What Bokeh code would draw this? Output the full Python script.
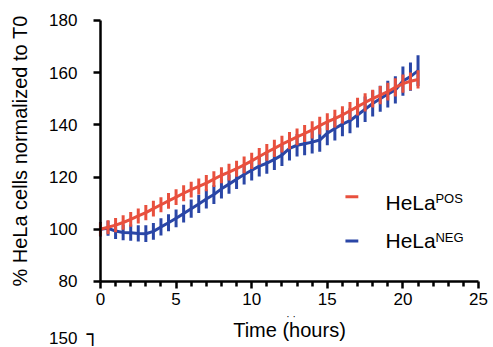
from bokeh.plotting import figure
from bokeh.models import Range1d, Label, FixedTicker, ColumnDataSource
from bokeh.embed import file_html
from bokeh.resources import INLINE

# ---- data ----
time_h = [0, 0.5, 1, 1.5, 2, 2.5, 3, 3.5, 4, 4.5, 5, 5.5, 6, 6.5, 7, 7.5, 8, 8.5,
          9, 9.5, 10, 10.5, 11, 11.5, 12, 12.5, 13, 13.5, 14, 14.5, 15, 15.5, 16,
          16.5, 17, 17.5, 18, 18.5, 19, 19.5, 20, 20.5, 21]

hela_pos = [100.0, 100.8, 101.6, 102.6, 103.8, 105.1, 106.4, 107.9, 109.4, 110.9,
            112.3, 113.8, 115.2, 116.4, 117.7, 119.2, 120.7, 121.9, 123.2, 124.7,
            126.2, 127.9, 129.5, 131.0, 132.6, 134.0, 135.4, 136.7, 138.1, 139.7,
            141.2, 142.4, 143.8, 145.4, 147.0, 148.6, 150.1, 151.4, 152.7, 154.4,
            155.8, 156.7, 157.4]
hela_pos_err = [2.6, 2.7, 2.7, 2.8, 2.8, 2.9, 2.9, 3.0, 2.9, 3.0,
                3.0, 3.1, 3.0, 3.1, 3.1, 3.0, 3.1, 3.2, 3.1, 3.2,
                3.1, 3.2, 3.2, 3.3, 3.2, 3.3, 3.2, 3.3, 3.3, 3.4,
                3.3, 3.4, 3.3, 3.4, 3.4, 3.5, 3.4, 3.5, 3.4, 3.5,
                3.5, 3.4, 3.5]

hela_neg = [100.0, 100.4, 99.3, 98.8, 98.7, 98.4, 98.3, 99.2, 100.9, 102.5,
            104.2, 106.0, 107.9, 109.7, 111.6, 113.3, 115.5, 117.3, 119.2, 121.0,
            122.6, 124.2, 125.3, 126.8, 128.4, 131.0, 132.2, 132.8, 133.4, 134.2,
            136.8, 138.6, 140.3, 141.6, 143.8, 146.0, 148.2, 150.0, 151.8, 153.4,
            156.8, 158.5, 160.8]
hela_neg_err = [2.8, 2.9, 3.0, 3.0, 3.1, 3.1, 3.2, 3.2, 3.3, 3.3,
                3.4, 3.4, 3.5, 3.5, 3.6, 3.6, 3.7, 3.7, 3.8, 3.8,
                3.9, 4.0, 4.0, 4.1, 4.2, 4.6, 4.3, 4.4, 4.4, 4.5,
                4.6, 4.6, 4.7, 4.8, 4.8, 4.9, 5.0, 5.0, 5.1, 5.2,
                5.6, 5.4, 5.9]

x_ticks = [0, 5, 10, 15, 20, 25]
x_minor = [1, 2, 3, 4, 6, 7, 8, 9, 11, 12, 13, 14, 16, 17, 18, 19, 21, 22, 23, 24]
y_ticks = [80, 100, 120, 140, 160, 180]
x_bounds = (0, 25)
y_bounds = (80, 180)

series_names = ["HeLa", "HeLa"]
series_sup = ["POS", "NEG"]

RED = "#E8503E"
BLUE = "#2A46A6"
FONT = "Liberation Sans"

# The frame fills the whole canvas; the axes sit at fixed data positions so
# that texts outside the plotted area (fragment at the bottom left) are drawn.
p = figure(width=493, height=347, output_backend="svg", toolbar_location=None,
           x_range=Range1d(-6.61, 25.99), y_range=Range1d(54.70, 187.66),
           min_border_left=0, min_border_right=0, min_border_top=0,
           min_border_bottom=0)
p.outline_line_color = None
p.xgrid.visible = False
p.ygrid.visible = False
p.background_fill_color = "white"

def src(vals, errs):
    return ColumnDataSource(dict(
        t=time_h, v=vals,
        lo=[a - e for a, e in zip(vals, errs)],
        hi=[a + e for a, e in zip(vals, errs)]))

s_neg = src(hela_neg, hela_neg_err)
s_pos = src(hela_pos, hela_pos_err)

for s, c in ((s_neg, BLUE), (s_pos, RED)):
    p.line("t", "v", source=s, line_color=c, line_width=3)
    p.segment("t", "lo", "t", "hi", source=s, line_color=c, line_width=3,
              line_cap="butt")

# axes
for ax in (p.xaxis[0], p.yaxis[0]):
    ax.axis_line_width = 2.5
    ax.axis_line_color = "black"
    ax.major_tick_line_width = 2.5
    ax.major_tick_line_color = "black"
    ax.major_tick_out = 7
    ax.major_tick_in = 0
    ax.major_label_text_font = FONT
    ax.major_label_text_font_size = "17px"
    ax.major_label_text_color = "black"
    ax.axis_label_text_font = FONT
    ax.axis_label_text_font_size = "20px"
    ax.axis_label_text_font_style = "normal"
    ax.axis_label_text_color = "black"

p.xaxis.fixed_location = y_bounds[0]
p.xaxis.bounds = x_bounds
p.xaxis.ticker = FixedTicker(ticks=x_ticks, minor_ticks=x_minor)
p.xaxis.minor_tick_line_width = 2.5
p.xaxis.minor_tick_line_color = "black"
p.xaxis.minor_tick_out = 5
p.xaxis.minor_tick_in = 0
p.xaxis.major_label_standoff = 5
p.xaxis.axis_label = "Time (hours)"
p.xaxis.axis_label_standoff = 10

p.yaxis.fixed_location = x_bounds[0]
p.yaxis.bounds = y_bounds
p.yaxis.ticker = FixedTicker(ticks=y_ticks)
p.yaxis.minor_tick_line_color = None
p.yaxis.major_label_standoff = 16
p.yaxis.axis_label = "% HeLa cells normalized to T0"
p.yaxis.axis_label_standoff = 15

# legend (drawn manually to allow superscripts)
leg_x0, leg_x1, leg_text_x, leg_sup_x = 16.2, 17.05, 18.85, 22.15
leg_y = [112.5, 95.5]
leg_text_top = [114.8, 100.1]
for i, c in enumerate((RED, BLUE)):
    p.segment(x0=[leg_x0], y0=[leg_y[i]], x1=[leg_x1], y1=[leg_y[i]],
              line_color=c, line_width=3, line_cap="butt")
    p.add_layout(Label(x=leg_text_x, y=leg_text_top[i], text=series_names[i],
                       text_font=FONT, text_font_size="21px",
                       text_baseline="top", text_align="left",
                       text_color="black"))
    p.add_layout(Label(x=leg_sup_x, y=leg_text_top[i] - 0.3, text=series_sup[i],
                       text_font=FONT, text_font_size="13px",
                       text_baseline="top", text_align="left",
                       text_color="black"))

# fragment of a neighbouring panel at the bottom left
p.add_layout(Label(x=-1.52, y=60.6, text="150", text_font=FONT,
                   text_font_size="17px", text_baseline="top",
                   text_align="right", text_color="black"))
p.add_layout(Label(x=-0.53, y=60.0, text="┐", text_font="DejaVu Sans",
                   text_font_size="20px", text_font_style="bold",
                   text_baseline="middle", text_align="center",
                   text_color="black"))
p.add_layout(Label(x=12.6, y=66.6, text="· ·", text_font=FONT,
                   text_font_size="10px", text_baseline="middle",
                   text_align="center", text_color="black"))

open("out.html", "w").write(file_html(p, INLINE))
